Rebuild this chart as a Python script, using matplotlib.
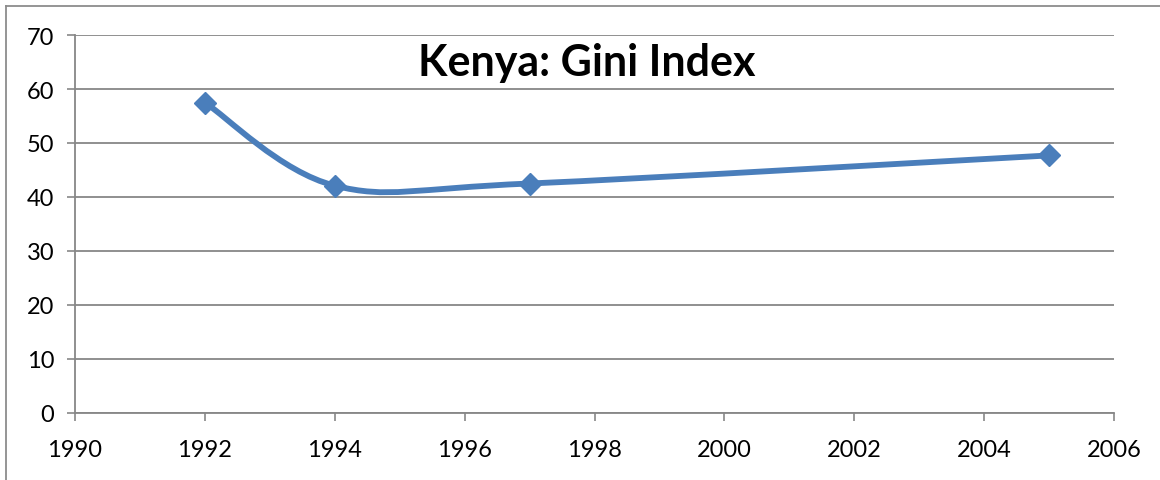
import numpy as np
import matplotlib
matplotlib.use("Agg")
import matplotlib.pyplot as plt
from matplotlib.path import Path
import matplotlib.patches as mpatches
from matplotlib.lines import Line2D

years = [1992, 1994, 1997, 2005]
gini = [57.5, 42.1, 42.5, 47.7]
x_ticks = [1990, 1992, 1994, 1996, 1998, 2000, 2002, 2004, 2006]
y_ticks = [0, 10, 20, 30, 40, 50, 60, 70]
title = "Kenya: Gini Index"

LINE_COLOR = "#4A7EBB"
GRID_COLOR = "#878787"

plt.rcParams["font.family"] = ["Lato", "DejaVu Sans"]


def smooth_path(xs, ys):
    # Excel-style smoothed line: Catmull-Rom segments as cubic Beziers
    pts = np.column_stack([xs, ys]).astype(float)
    n = len(pts)
    verts = [pts[0]]
    codes = [Path.MOVETO]
    for i in range(n - 1):
        p0 = pts[max(i - 1, 0)]
        p1 = pts[i]
        p2 = pts[i + 1]
        p3 = pts[min(i + 2, n - 1)]
        c1 = p1 + (p2 - p0) / 6.0
        c2 = p2 - (p3 - p1) / 6.0
        verts += [c1, c2, p2]
        codes += [Path.CURVE4] * 3
    return Path(verts, codes)


fig = plt.figure(figsize=(11.6, 4.81), dpi=100)
ax = fig.add_axes([75 / 1160, 1 - 414 / 481, (1114 - 75) / 1160, (414 - 36) / 481])

patch = mpatches.PathPatch(smooth_path(years, gini), facecolor="none",
                           edgecolor=LINE_COLOR, linewidth=4.2,
                           capstyle="round", joinstyle="round", zorder=3)
ax.add_patch(patch)
ax.plot(years, gini, linestyle="none", marker="D", markersize=11,
        color=LINE_COLOR, zorder=4)

ax.set_xlim(1990, 2006)
ax.set_ylim(0, 70)
ax.set_xticks(x_ticks)
ax.set_yticks(y_ticks)
ax.tick_params(axis="both", direction="out", length=6, width=1.2,
               color=GRID_COLOR, labelsize=17, labelcolor="black")
ax.tick_params(axis="y", pad=9)
ax.tick_params(axis="x", pad=13)

ax.grid(axis="y", color=GRID_COLOR, linewidth=1.3, zorder=0)
ax.set_axisbelow(True)
for side in ["top", "right"]:
    ax.spines[side].set_visible(False)
for side in ["left", "bottom"]:
    ax.spines[side].set_color(GRID_COLOR)
    ax.spines[side].set_linewidth(1.3)

ax.text(0.493, 0.928, title, transform=ax.transAxes, ha="center", va="center",
        fontsize=31, fontweight="bold", color="black")

# chart-area frame (only top and left edges visible in the crop)
fig.add_artist(Line2D([6 / 1160, 6 / 1160], [0, 1 - 7 / 481],
                      transform=fig.transFigure, color="#8C8C8C", linewidth=1.3))
fig.add_artist(Line2D([6 / 1160, 1], [1 - 7 / 481, 1 - 7 / 481],
                      transform=fig.transFigure, color="#8C8C8C", linewidth=1.3))

fig.savefig("out.png", dpi=100, facecolor="white")
